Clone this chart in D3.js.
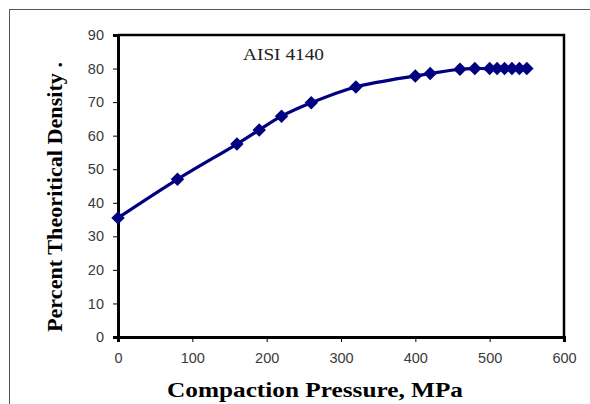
<!DOCTYPE html>
<html>
<head>
<meta charset="utf-8">
<script src="https://cdn.jsdelivr.net/npm/d3@7"></script>
<style>
  body { margin: 0; background: #fff; }
  .tick text { font-family: "Liberation Sans", Arial, sans-serif; font-size: 14.5px; fill: #3a3a3a; }
  .label { font-family: "Liberation Serif", "Times New Roman", serif; font-weight: bold; fill: #000; }
</style>
</head>
<body>
<svg id="chart" width="590" height="404"></svg>
<script>
// compaction pressure (MPa) and percent theoretical density
const pressure = [0, 80, 160, 190, 220, 260, 320, 400, 420, 460, 480, 500, 510, 520, 530, 540, 550]
const density  = [35.5, 47, 57.5, 61.7, 65.8, 69.8, 74.5, 77.8, 78.5, 79.8, 80, 80, 80, 80, 80, 80, 80]
const xTicks = [0, 100, 200, 300, 400, 500, 600]
const yTicks = [0, 10, 20, 30, 40, 50, 60, 70, 80, 90]

const data = pressure.map((p, i) => ({p: p, d: density[i]}))

const svg = d3.select('#chart')

// outer frame
svg.append('rect')
  .attr('x', 9.5).attr('y', 9.5)
  .attr('width', 620).attr('height', 420)
  .attr('fill', 'none')
  .attr('stroke', '#555')
  .attr('stroke-width', 1)

const marginLeft = 118, marginTop = 35
const width = 564 - marginLeft
const height = 337 - marginTop

const chart = svg.append('g')
  .attr('transform', `translate(${marginLeft}, ${marginTop})`)

const xScale = d3.scaleLinear().domain([0, 600]).range([0, width])
const yScale = d3.scaleLinear().domain([0, 90]).range([height, 0])

// plot frame (top and right)
chart.append('path')
  .attr('d', `M0,0H${width}V${height}`)
  .attr('fill', 'none')
  .attr('stroke', '#000')
  .attr('stroke-width', 2.5)

const xAxis = chart.append('g')
  .attr('transform', `translate(0, ${height})`)
  .call(d3.axisBottom(xScale).tickValues(xTicks).tickSize(5).tickPadding(11))
xAxis.select('.domain').attr('stroke-width', 3)

const yAxis = chart.append('g')
  .call(d3.axisLeft(yScale).tickValues(yTicks).tickSize(5).tickPadding(9))
yAxis.select('.domain').attr('stroke-width', 3)

const line = d3.line()
  .x(d => xScale(d.p))
  .y(d => yScale(d.d))
  .curve(d3.curveCatmullRom.alpha(0.5))

chart.append('path')
  .datum(data)
  .attr('d', line)
  .attr('fill', 'none')
  .attr('stroke', '#000080')
  .attr('stroke-width', 3.2)

const diamond = d3.symbol().type(d3.symbolDiamond2).size(115)

chart.selectAll('.pt')
  .data(data)
  .enter()
  .append('path')
  .attr('class', 'pt')
  .attr('d', diamond)
  .attr('transform', d => `translate(${xScale(d.p)}, ${yScale(d.d)})`)
  .attr('fill', '#000080')

chart.append('text')
  .attr('x', 125)
  .attr('y', 25)
  .attr('font-family', '"Liberation Serif", "Times New Roman", serif')
  .attr('font-size', 16)
  .attr('fill', '#222')
  .attr('textLength', 81)
  .attr('lengthAdjust', 'spacingAndGlyphs')
  .text('AISI  4140')

svg.append('text')
  .attr('class', 'label')
  .attr('font-size', 21)
  .attr('x', 315)
  .attr('y', 397)
  .attr('text-anchor', 'middle')
  .attr('textLength', 296)
  .attr('lengthAdjust', 'spacingAndGlyphs')
  .text('Compaction Pressure, MPa')

svg.append('text')
  .attr('class', 'label')
  .attr('font-size', 21)
  .attr('transform', 'translate(62, 197) rotate(-90)')
  .attr('text-anchor', 'middle')
  .attr('textLength', 270)
  .attr('lengthAdjust', 'spacingAndGlyphs')
  .text('Percent Theoritical Density .')
</script>
</body>
</html>
